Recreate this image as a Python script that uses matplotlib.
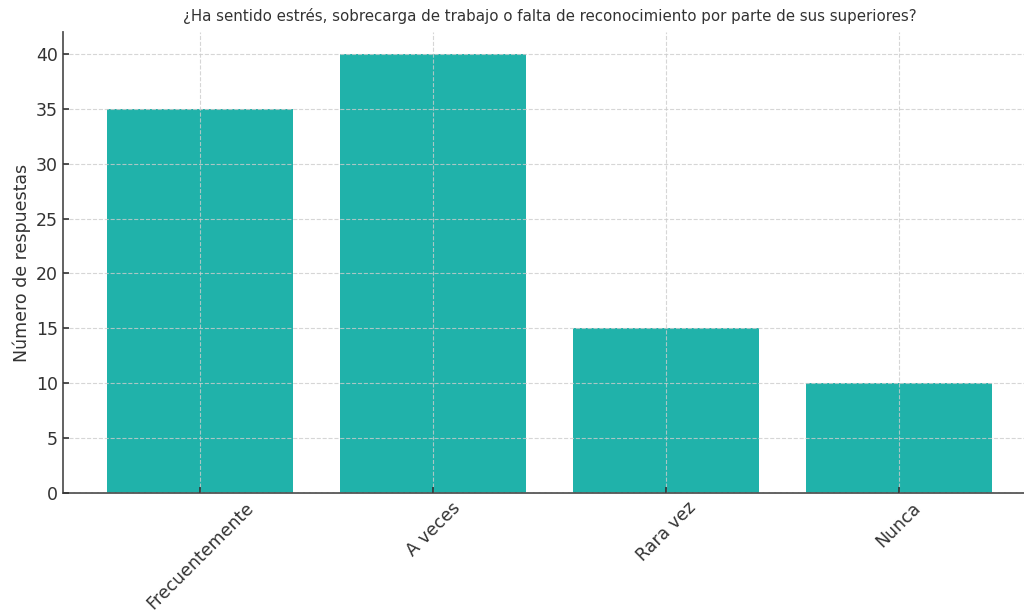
import matplotlib.pyplot as plt

CATEGORIAS = ["Frecuentemente", "A veces", "Rara vez", "Nunca"]
RESPUESTAS = [35, 40, 15, 10]

fig = plt.figure(figsize=(10.24, 6.11), dpi=100)
ax = fig.add_axes([63 / 1024, 118 / 611, 973 / 1024, 461 / 611])

ax.bar(CATEGORIAS, RESPUESTAS, color='lightseagreen', width=0.8, zorder=1)

ax.set_ylim(0, 42)
ax.set_title("¿Ha sentido estrés, sobrecarga de trabajo o falta de reconocimiento por parte de sus superiores?",
             fontsize=10.8, color='#333333', pad=8)
ax.set_ylabel("Número de respuestas", fontsize=12.5, color='#333333')
ax.tick_params(axis='both', direction='in', labelsize=12.5, colors='#333333', length=4, width=1.2)
ax.tick_params(axis='x', pad=4)
plt.setp(ax.get_xticklabels(), rotation=45, ha='center')

ax.grid(True, linestyle='--', color='#cccccc', linewidth=0.8, alpha=0.8, zorder=2)
ax.set_axisbelow(False)
for lado in ['top', 'right']:
    ax.spines[lado].set_visible(False)
for lado in ['left', 'bottom']:
    ax.spines[lado].set_color('#555555')
    ax.spines[lado].set_linewidth(1.3)

fig.savefig("out.png", dpi=100)
